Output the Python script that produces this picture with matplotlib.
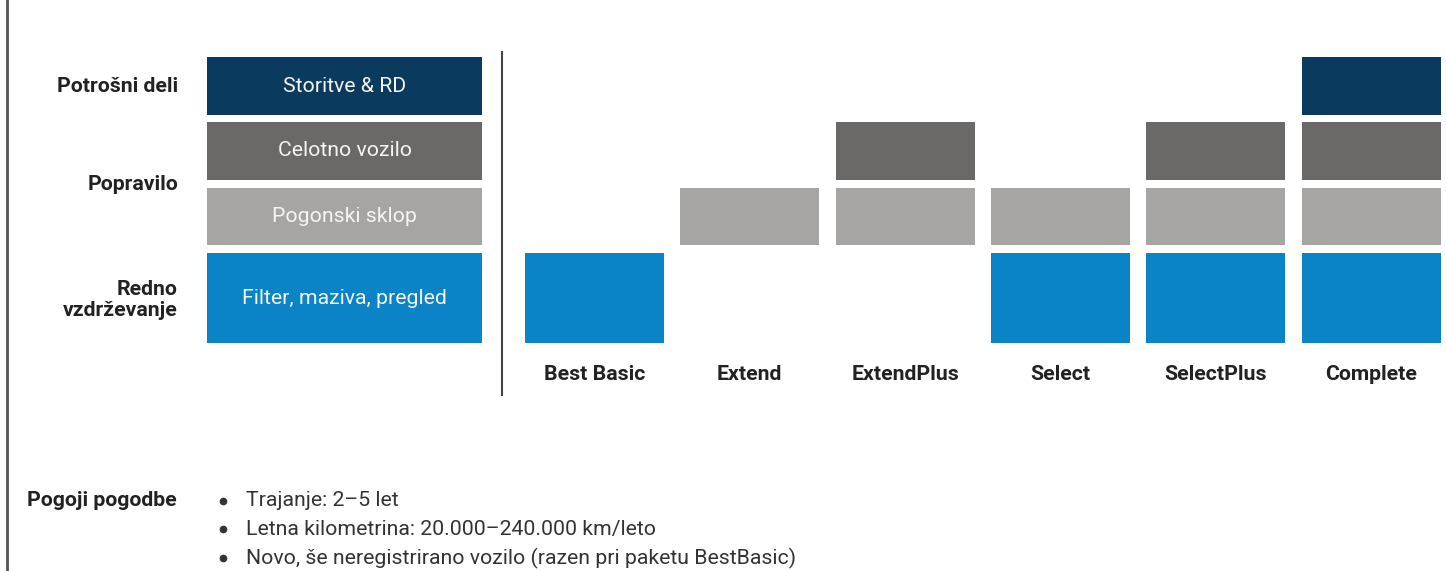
import matplotlib
matplotlib.use("Agg")
import matplotlib.pyplot as plt

# -----------------------------
# Data
# -----------------------------
packages = ["Best Basic", "Extend", "ExtendPlus", "Select", "SelectPlus", "Complete"]
layers = ["Storitve & RD", "Celotno vozilo", "Pogonski sklop", "Filter, maziva, pregled"]
layer_colors = ["#0b3a5f", "#6b6967", "#a6a5a4", "#0a84c7"]

# coverage[layer][package] -> 1 if the package includes the layer
coverage = [
    [0, 0, 0, 0, 0, 1],  # Storitve & RD
    [0, 0, 1, 0, 1, 1],  # Celotno vozilo
    [0, 1, 1, 1, 1, 1],  # Pogonski sklop
    [1, 0, 0, 1, 1, 1],  # Filter, maziva, pregled
]

group_labels = ["Potrošni deli", "Popravilo", "Redno\nvzdrževanje"]
condition_title = "Pogoji pogodbe"
conditions = [
    "Trajanje: 2\u20135 let",
    "Letna kilometrina: 20.000\u2013240.000 km/leto",
    "Novo, še neregistrirano vozilo (razen pri paketu BestBasic)",
]

# -----------------------------
# Layout (pixel coordinates)
# -----------------------------
W, H = 1446, 571
row_top = [57, 122, 188, 253]
row_h = [58, 58, 57, 90]
legend_x, legend_w = 207, 275
col_x0, col_step, col_w = 525, 155.3, 139
group_y = [87, 185, 300]
label_x = 178
FS = 15.3

plt.rcParams["font.family"] = ["Roboto", "DejaVu Sans"]

fig = plt.figure(figsize=(W / 100, H / 100), dpi=100)
ax = fig.add_axes([0, 0, 1, 1])
ax.set_xlim(0, W)
ax.set_ylim(H, 0)
ax.axis("off")

# legend column
for j, name in enumerate(layers):
    ax.bar(legend_x, row_h[j], bottom=row_top[j], width=legend_w, align="edge",
           color=layer_colors[j], lw=0)
    ax.text(legend_x + legend_w / 2, row_top[j] + row_h[j] / 2, name,
            ha="center", va="center", color="#f4f4f4", fontsize=FS)

# package grid
for j in range(len(layers)):
    for i in range(len(packages)):
        if coverage[j][i]:
            ax.bar(col_x0 + i * col_step, row_h[j], bottom=row_top[j], width=col_w,
                   align="edge", color=layer_colors[j], lw=0)

for i, p in enumerate(packages):
    ax.text(col_x0 + i * col_step + col_w / 2, 374, p, ha="center", va="center",
            fontsize=FS, fontweight="bold", color="#222222")

# row group labels
for y, g in zip(group_y, group_labels):
    ax.text(label_x, y, g, ha="right", va="center", fontsize=FS,
            fontweight="bold", color="#222222", linespacing=1.15)

# divider and left border
ax.plot([502, 502], [52, 395], color="#444444", lw=1.5)
ax.plot([7, 7], [0, H], color="#555555", lw=2)

# contract conditions
ax.text(27, 501, condition_title, ha="left", va="center", fontsize=FS,
        fontweight="bold", color="#222222")
for k, c in enumerate(conditions):
    y = 501 + k * 28.5
    ax.plot(223, y - 0.5, "o", ms=4.5, color="#333333")
    ax.text(246, y, c, ha="left", va="center", fontsize=FS, color="#333333")

fig.savefig("out.png", dpi=100)
